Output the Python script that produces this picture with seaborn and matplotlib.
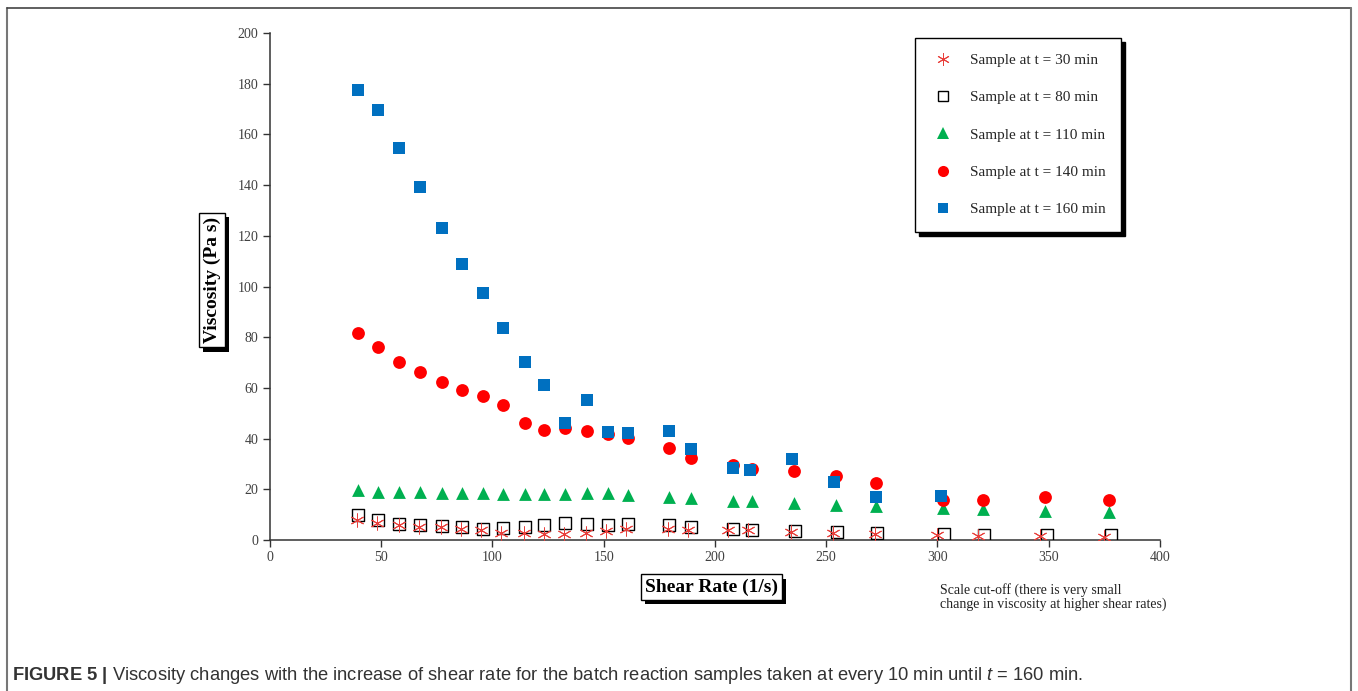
import matplotlib
matplotlib.use("Agg")
import matplotlib.pyplot as plt
import matplotlib.patheffects as pe
from matplotlib.lines import Line2D
import seaborn as sns

# Shear rate (1/s) and viscosity (Pa s) for each batch sample
shear_30 = [39, 48, 58, 67, 77, 86, 95, 104, 114, 123, 132, 142, 151, 160, 179, 188, 206, 215, 234, 253, 272, 300, 318, 346, 375]
visc_30 = [7.9, 6.7, 5.9, 5.1, 5.1, 4.3, 3.9, 2.8, 2.8, 2.4, 2.4, 2.8, 3.6, 4.3, 4.3, 3.9, 3.9, 3.9, 3.2, 2.8, 2.4, 2.0, 1.6, 1.6, 1.2]

shear_80 = [39.6, 48.5, 58, 67.4, 77.3, 86.3, 95.7, 104.7, 114.6, 123.1, 132.6, 142.5, 151.9, 160.9, 179.3, 189.2, 208.1, 216.6, 236, 255, 273, 303, 321, 349, 378]
visc_80 = [9.9, 7.9, 6.3, 5.9, 5.5, 5.1, 4.3, 4.7, 5.1, 5.9, 6.7, 6.3, 5.9, 6.3, 5.9, 5.1, 4.3, 3.9, 3.6, 3.2, 2.8, 2.4, 2.0, 2.0, 2.0]

shear_110 = [39.6, 48.5, 58, 67.4, 77.3, 86.3, 95.7, 104.7, 114.6, 123.1, 132.6, 142.5, 151.9, 160.9, 179.3, 189.2, 208.1, 216.6, 235.5, 254.4, 272.4, 302.5, 320.4, 348.3, 377.1]
visc_110 = [19.7, 18.9, 18.9, 18.9, 18.5, 18.5, 18.5, 18.1, 18.1, 18.1, 18.1, 18.5, 18.5, 17.8, 17.0, 16.6, 15.4, 15.4, 14.6, 13.8, 13.4, 12.6, 12.2, 11.4, 11.0]

shear_140 = [39.6, 48.5, 58, 67.4, 77.3, 86.3, 95.7, 104.7, 114.6, 123.1, 132.6, 142.5, 151.9, 160.9, 179.3, 189.2, 208.1, 216.6, 235.5, 254.4, 272.4, 302.5, 320.4, 348.3, 377.1]
visc_140 = [81.7, 76.1, 70.2, 66.3, 62.3, 59.2, 56.8, 53.3, 46.2, 43.4, 44.2, 43.0, 41.8, 40.2, 36.3, 32.3, 29.6, 28.0, 27.2, 25.2, 22.5, 15.8, 15.8, 17.0, 15.8]

shear_160 = [39.6, 48.5, 58, 67.4, 77.3, 86.3, 95.7, 104.7, 114.6, 123.1, 132.6, 142.5, 151.9, 160.9, 179.3, 189.2, 208.1, 215.7, 234.6, 253.5, 272.4, 301.6]
visc_160 = [177.5, 169.6, 154.6, 139.2, 123.0, 108.9, 97.4, 83.6, 70.2, 61.1, 46.2, 55.2, 42.6, 42.2, 43.0, 35.9, 28.4, 27.6, 32.0, 22.9, 17.0, 17.4]

labels = ["Sample at t = 30 min", "Sample at t = 80 min", "Sample at t = 110 min",
          "Sample at t = 140 min", "Sample at t = 160 min"]
x_ticks = [0, 50, 100, 150, 200, 250, 300, 350, 400]
y_ticks = [0, 20, 40, 60, 80, 100, 120, 140, 160, 180, 200]

RED = "#ff0000"
GREEN = "#00b050"
BLUE = "#0070c0"
STAR_RED = "#e8403c"

sns.set_style("white")
plt.rcParams["font.family"] = ["Liberation Serif", "DejaVu Serif"]
plt.rcParams["mathtext.fontset"] = "custom"
plt.rcParams["mathtext.rm"] = "Liberation Sans"
plt.rcParams["mathtext.it"] = "Liberation Sans:italic"
plt.rcParams["mathtext.bf"] = "Liberation Sans:bold"

fig = plt.figure(figsize=(13.58, 6.91), dpi=100)
ax = fig.add_axes([0.1988, 0.2185, 0.6554, 0.7337])

asterisk = (6, 2, 0)
sns.scatterplot(x=shear_30, y=visc_30, ax=ax, marker=asterisk, s=90,
                color=STAR_RED, linewidths=0.7, zorder=4)
sns.scatterplot(x=shear_80, y=visc_80, ax=ax, marker="s", s=75,
                facecolors="none", edgecolors="black", linewidths=1.0, zorder=3)
sns.scatterplot(x=shear_110, y=visc_110, ax=ax, marker="^", s=85,
                color=GREEN, edgecolor=GREEN, linewidth=0, zorder=3)
sns.scatterplot(x=shear_140, y=visc_140, ax=ax, marker="o", s=85,
                color=RED, edgecolor=RED, linewidth=0, zorder=3)
sns.scatterplot(x=shear_160, y=visc_160, ax=ax, marker="s", s=80,
                color=BLUE, edgecolor=BLUE, linewidth=0, zorder=3)

ax.set_xlim(0, 400)
ax.set_ylim(0, 200)
ax.set_xticks(x_ticks)
ax.set_yticks(y_ticks)
ax.tick_params(axis="both", direction="out", length=5, width=1, colors="#333333",
               labelsize=10, labelcolor="#404040", left=True, bottom=True)
ax.tick_params(axis="x", pad=3)
sns.despine(ax=ax)
for side in ("left", "bottom"):
    ax.spines[side].set_color("#333333")
    ax.spines[side].set_linewidth(1.1)
ax.set_xlabel("")
ax.set_ylabel("")


def boxed_label(text, x, y, rotation):
    """Bold label inside a white box with a black drop shadow."""
    t = fig.text(x, y, text, ha="center", va="center", rotation=rotation,
                 fontsize=14, fontweight="bold", color="black",
                 bbox=dict(boxstyle="square,pad=0.22", fc="white", ec="black", lw=1))
    t.get_bbox_patch().set_path_effects([
        pe.SimplePatchShadow(offset=(3, -3), shadow_rgbFace="black", alpha=1),
        pe.Normal(),
    ])
    return t


boxed_label("Viscosity (Pa s)", 0.1561, 0.5948, 90)
boxed_label("Shear Rate (1/s)", 0.5238, 0.1500, 0)

handles = [
    Line2D([], [], ls="none", marker=asterisk, ms=9, mec=STAR_RED, mew=0.7),
    Line2D([], [], ls="none", marker="s", ms=7, mfc="none", mec="black", mew=1.0),
    Line2D([], [], ls="none", marker="^", ms=8, mfc=GREEN, mec=GREEN, mew=0),
    Line2D([], [], ls="none", marker="o", ms=8, mfc=RED, mec=RED, mew=0),
    Line2D([], [], ls="none", marker="s", ms=7.5, mfc=BLUE, mec=BLUE, mew=0),
]
leg = fig.legend(handles, labels, loc="upper left", bbox_to_anchor=(0.674, 0.945),
                 fontsize=11, frameon=True, fancybox=False,
                 shadow={"ox": 3, "oy": -3, "color": "black", "alpha": 1},
                 labelspacing=1.55, borderpad=1.0, handletextpad=0.95,
                 borderaxespad=0, handlelength=1.6)
leg.get_frame().set_edgecolor("black")
leg.get_frame().set_linewidth(1.0)

fig.text(0.6925, 0.156,
         "Scale cut-off (there is very small\nchange in viscosity at higher shear rates)",
         fontsize=10, ha="left", va="top", linespacing=1.0, color="#222222")

fig.text(0.0088, 0.016,
         r"$\bf{FIGURE\ 5\ |}$ Viscosity changes with the increase of shear rate for the "
         r"batch reaction samples taken at every 10 min until $t$ = 160 min.",
         fontsize=13.2, family=["Liberation Sans", "DejaVu Sans"], color="#333333",
         ha="left", va="baseline")

# outer figure frame
frame_color = "#777777"
fig.add_artist(Line2D([0.0052, 0.0052], [0.0, 0.9885], transform=fig.transFigure,
                      color=frame_color, lw=1.5))
fig.add_artist(Line2D([0.0052, 0.9945], [0.9885, 0.9885], transform=fig.transFigure,
                      color="#444444", lw=1.2))
fig.add_artist(Line2D([0.9945, 0.9945], [0.0, 0.9885], transform=fig.transFigure,
                      color=frame_color, lw=1.5))

fig.savefig("out.png", dpi=100)
